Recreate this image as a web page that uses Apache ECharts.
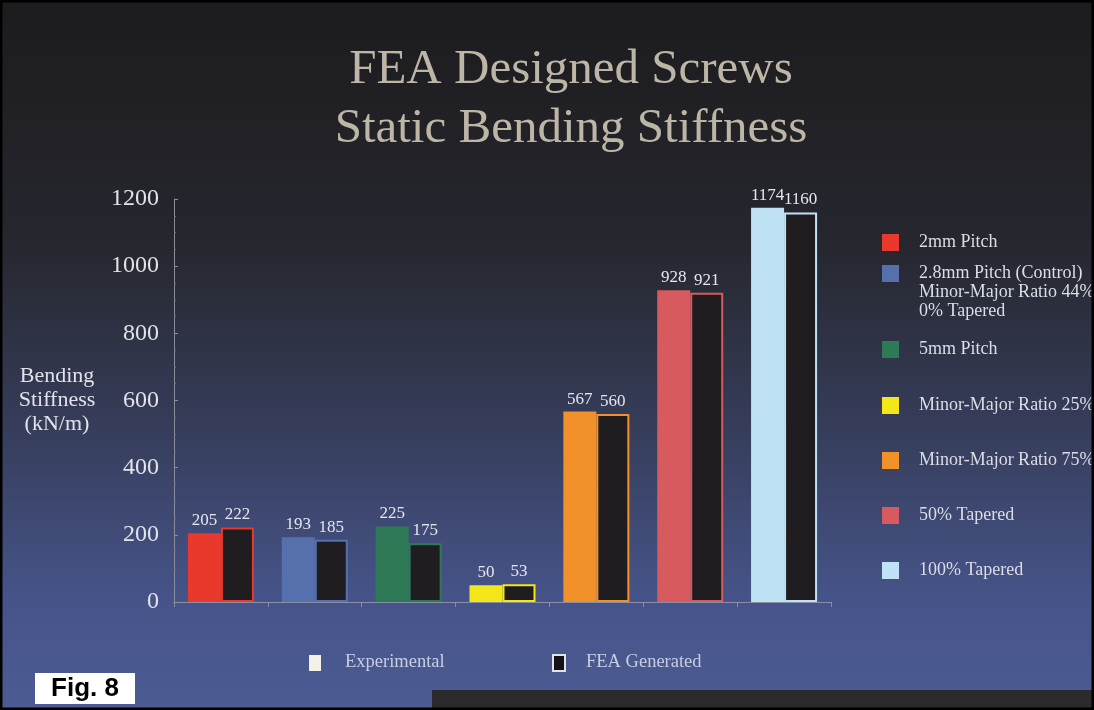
<!DOCTYPE html>
<html>
<head>
<meta charset="utf-8">
<script src="https://cdn.jsdelivr.net/npm/echarts@6/dist/echarts.min.js"></script>
<style>
  html, body { margin: 0; padding: 0; background: #1d1c1e; }
  #chart { width: 1094px; height: 710px; }
</style>
</head>
<body>
<div id="chart"></div>
<script>
// legend text for each screw design
const designs = [
  '2mm Pitch',
  '2.8mm Pitch (Control)\nMinor-Major Ratio 44%\n0% Tapered',
  '5mm Pitch',
  'Minor-Major Ratio 25%',
  'Minor-Major Ratio 75%',
  '50% Tapered',
  '100% Tapered'
]
const designColors = ['#e8392c', '#5670ad', '#2f7a56', '#f3e619', '#f2912a', '#d65a5e', '#bfe3f4']
const experimental = [205, 193, 225, 50, 567, 928, 1174]
const feaGenerated = [222, 185, 175, 53, 560, 921, 1160]
const yTicks = [0, 200, 400, 600, 800, 1000, 1200]

// y position of each legend square on the right
const legendY = [243, 274, 350, 406, 461, 516, 571]

const serif = '"Liberation Serif", "DejaVu Serif", serif'
const chart = echarts.init(document.getElementById('chart'))

const legendGraphics = []
designs.forEach((name, i) => {
  legendGraphics.push({
    type: 'rect',
    shape: { x: 882, y: legendY[i] - 9, width: 17, height: 17 },
    style: { fill: designColors[i] }
  })
  legendGraphics.push({
    type: 'text',
    x: 919,
    y: legendY[i] - 10,
    style: {
      text: name,
      fill: '#dcdde6',
      font: '18px ' + serif,
      lineHeight: 19
    }
  })
})

chart.setOption({
  backgroundColor: {
    type: 'linear', x: 0, y: 0, x2: 0, y2: 1,
    colorStops: [
      { offset: 0, color: '#1c1b1d' },
      { offset: 0.35, color: '#26272f' },
      { offset: 0.6, color: '#363d5a' },
      { offset: 0.85, color: '#46548a' },
      { offset: 1, color: '#4c5b93' }
    ]
  },
  animation: false,
  title: {
    text: 'FEA Designed Screws\nStatic Bending Stiffness',
    left: 566,
    textAlign: 'center',
    top: 36,
    textStyle: {
      color: '#bdb5a6',
      fontFamily: serif,
      fontWeight: 'normal',
      fontSize: 49,
      lineHeight: 59
    }
  },
  grid: { left: 174, right: 263, top: 199, bottom: 108 },
  xAxis: {
    type: 'category',
    data: designs,
    axisLabel: { show: false },
    axisLine: { lineStyle: { color: '#8a8fa8', width: 1 } },
    axisTick: { show: true, interval: 0, length: 5, lineStyle: { color: '#8a8fa8' } }
  },
  yAxis: {
    type: 'value',
    min: yTicks[0],
    max: yTicks[yTicks.length - 1],
    interval: 200,
    axisLine: { show: true, lineStyle: { color: '#8a8c98' } },
    axisTick: { show: true, inside: true, length: 4, lineStyle: { color: '#8a8c98' } },
    minorTick: { show: true, splitNumber: 4, length: 2, lineStyle: { color: '#6a6d7c' } },
    splitLine: { show: false },
    axisLabel: {
      color: '#e2e2ea',
      fontFamily: serif,
      fontSize: 24,
      margin: 15,
      formatter: v => String(v)
    },
    name: 'Bending\nStiffness\n(kN/m)',
    nameLocation: 'middle',
    nameRotate: 0,
    nameGap: 117,
    nameTextStyle: {
      color: '#e2e2ea',
      fontFamily: serif,
      fontSize: 22,
      lineHeight: 24,
      align: 'center'
    }
  },
  series: [
    {
      name: 'Experimental',
      type: 'bar',
      barWidth: 33,
      barGap: '0%',
      data: experimental.map((v, i) => ({
        value: v,
        itemStyle: { color: designColors[i] }
      })),
      label: {
        show: true,
        position: 'top',
        distance: 4,
        color: '#e6e6ee',
        fontFamily: serif,
        fontSize: 17
      }
    },
    {
      name: 'FEA Generated',
      type: 'bar',
      barWidth: 33,
      barGap: '0%',
      data: feaGenerated.map((v, i) => ({
        value: v,
        itemStyle: {
          color: '#1f1d20',
          borderColor: designColors[i],
          borderWidth: 2
        }
      })),
      label: {
        show: true,
        position: 'top',
        distance: 4,
        color: '#e6e6ee',
        fontFamily: serif,
        fontSize: 17
      }
    }
  ],
  graphic: [
    ...legendGraphics,
    // bottom series legend
    { type: 'rect', shape: { x: 309, y: 655, width: 12, height: 16 }, style: { fill: '#f4f1e6' } },
    { type: 'text', x: 345, y: 653, style: { text: 'Experimental', fill: '#c9cde0', font: '18.5px ' + serif } },
    { type: 'rect', shape: { x: 553, y: 655, width: 12, height: 16 }, style: { fill: '#141214', stroke: '#e2e2ea', lineWidth: 2 } },
    { type: 'text', x: 586, y: 653, style: { text: 'FEA Generated', fill: '#c9cde0', font: '18.5px ' + serif } },
    // dark strip at the bottom right of the scan
    { type: 'rect', shape: { x: 432, y: 690, width: 662, height: 20 }, style: { fill: '#2a2a2c' } },
    // figure tag
    { type: 'rect', shape: { x: 35, y: 673, width: 100, height: 31 }, style: { fill: '#ffffff' } },
    { type: 'text', x: 85, y: 689, style: { text: 'Fig. 8', fill: '#000000', font: 'bold 26px "Liberation Sans", Arial, sans-serif', align: 'center', verticalAlign: 'middle' } },
    // scan frame
    { type: 'rect', shape: { x: 1, y: 1, width: 1092, height: 708 }, style: { fill: 'none', stroke: '#000000', lineWidth: 3 }, z: 100 }
  ]
})
</script>
</body>
</html>
